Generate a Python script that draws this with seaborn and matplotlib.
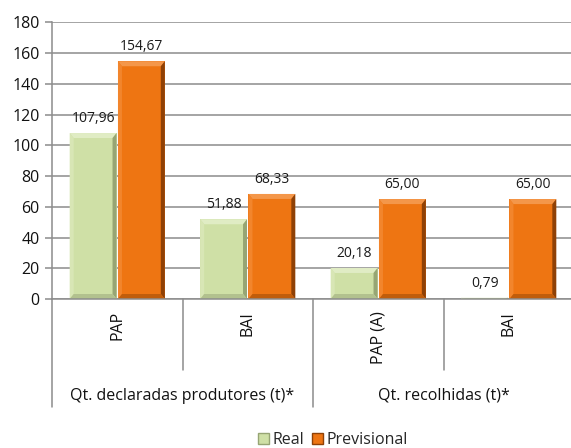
import pandas as pd
import seaborn as sns
import matplotlib.pyplot as plt
from matplotlib.patches import Patch, Polygon

# two-level categories
groups = ["Qt. declaradas produtores (t)*", "Qt. recolhidas (t)*"]
subcats = ["PAP", "BAI", "PAP (A)", "BAI"]
group_of = [0, 0, 1, 1]
series = ["Real", "Previsional"]
real = [107.96, 51.88, 20.18, 0.79]
previsional = [154.67, 68.33, 65.00, 65.00]

COLORS = {"Real": "#cfe0a6", "Previsional": "#ee7512"}
# bevel shades: top, left, right, bottom
BEVEL = {"Real": ["#e0ecc4", "#d8e6b5", "#97a574", "#b2c18e"],
         "Previsional": ["#f4974a", "#f2852c", "#8f4106", "#c05d0b"]}
GRID = "#8c8c8c"

keys = [f"{i}_{s}" for i, s in enumerate(subcats)]
df = pd.DataFrame({
    "key": keys * 2,
    "serie": ["Real"] * len(keys) + ["Previsional"] * len(keys),
    "valor": real + previsional,
})

sns.set_style("white")
plt.rcParams["font.family"] = ["Open Sans", "DejaVu Sans"]

fig = plt.figure(figsize=(5.71, 4.48), dpi=100)
ax = fig.add_axes([52 / 571, 149 / 448, 522 / 571, 276.7 / 448])

sns.barplot(data=df, x="key", y="valor", hue="serie", hue_order=series,
            palette=COLORS, width=0.74, gap=0.03, saturation=1,
            legend=False, ax=ax)

ax.set_ylim(0, 180)
ax.set_xlim(-0.5, 3.5)

# bevel look, px -> data
px_x = 4 / 522
px_y = 180 / 276.7
for cont, s in zip(ax.containers, series):
    top_c, left_c, right_c, bot_c = BEVEL[s]
    for p in cont:
        p.set_edgecolor("none")
        x0, y0 = p.get_x(), p.get_y()
        w, h = p.get_width(), p.get_height()
        x1, y1 = x0 + w, y0 + h
        bx = 4 * px_x
        by = min(5 * px_y, h / 2)
        faces = [
            ([(x0, y1), (x1, y1), (x1 - bx, y1 - by), (x0 + bx, y1 - by)], top_c),
            ([(x0, y0), (x0, y1), (x0 + bx, y1 - by), (x0 + bx, y0 + by)], left_c),
            ([(x1, y0), (x1, y1), (x1 - bx, y1 - by), (x1 - bx, y0 + by)], right_c),
            ([(x0, y0), (x1, y0), (x1 - bx, y0 + by), (x0 + bx, y0 + by)], bot_c),
        ]
        for pts, c in faces:
            ax.add_patch(Polygon(pts, closed=True, facecolor=c, edgecolor="none",
                                 zorder=p.get_zorder() + 0.1))
    labels = [f"{v:.2f}".replace(".", ",") for v in cont.datavalues]
    ax.bar_label(cont, labels=labels, padding=5, fontsize=10, color="#1a1a1a")

ax.set_yticks(range(0, 181, 20))
ax.yaxis.grid(True, color=GRID, lw=1.1)
ax.set_axisbelow(True)
ax.set_xlabel("")
ax.set_ylabel("")
for side in ["top", "right"]:
    ax.spines[side].set_visible(False)
for side in ["left", "bottom"]:
    ax.spines[side].set_color(GRID)
    ax.spines[side].set_linewidth(1.1)
ax.tick_params(axis="y", length=5, width=1.1, color=GRID, pad=4,
               labelsize=11.5, labelcolor="#111111", left=True)

# category labels (level 1, rotated)
ax.set_xticks(range(len(subcats)))
ax.set_xticklabels([])
ax.tick_params(axis="x", length=0)
tr = ax.get_xaxis_transform()
for i, s in enumerate(subcats):
    ax.text(i, -0.043, s, transform=tr, rotation=90, ha="center", va="top",
            fontsize=11.5, color="#111111")

# separators
for i in range(len(subcats)):
    x = i - 0.5
    new_group = i == 0 or group_of[i] != group_of[i - 1]
    y_end = -0.39 if new_group else -0.257
    ax.plot([x, x], [0, y_end], transform=tr, color=GRID, lw=1.1,
            clip_on=False)

# group labels (level 2)
for g, name in enumerate(groups):
    idx = [i for i, gg in enumerate(group_of) if gg == g]
    xc = (idx[0] + idx[-1]) / 2
    ax.text(xc, -0.35, name, transform=tr, ha="center", va="center",
            fontsize=11.5, color="#111111")

handles = [Patch(facecolor=COLORS[s], edgecolor=BEVEL[s][2], label=s)
           for s in series]
fig.legend(handles=handles, loc="center", bbox_to_anchor=(0.583, 0.018),
           ncol=2, frameon=False, fontsize=11.5, handlelength=0.7,
           handleheight=0.7, handletextpad=0.2, columnspacing=0.5)

fig.savefig("out.png", dpi=100)
